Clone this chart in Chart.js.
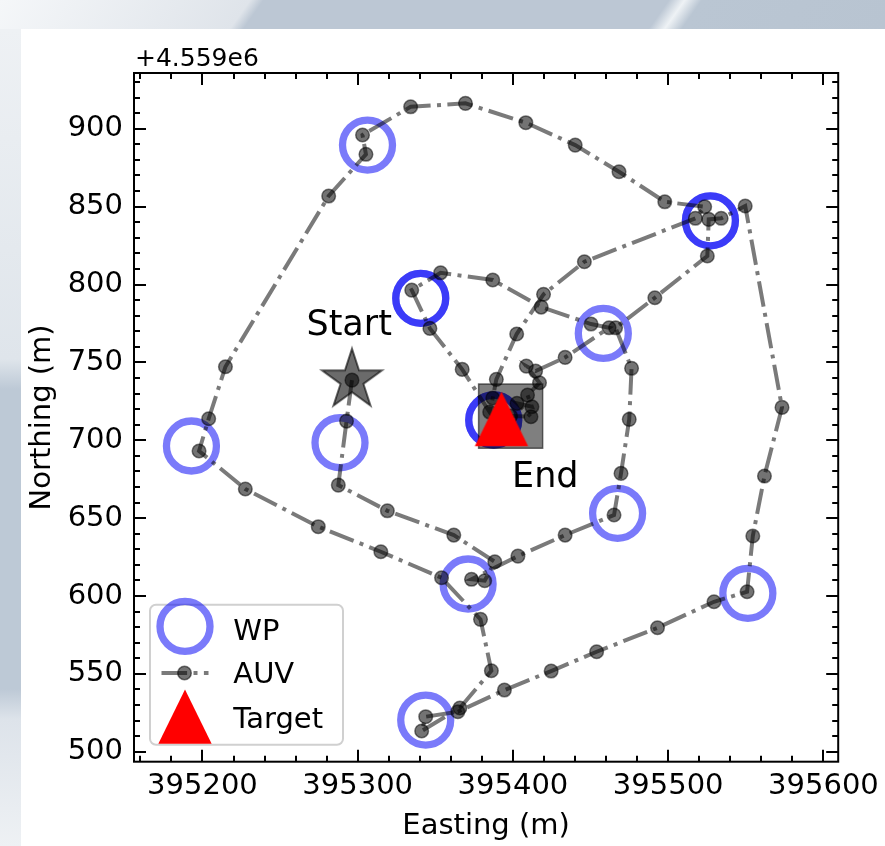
<!DOCTYPE html>
<html>
<head>
<meta charset="utf-8">
<title>AUV track</title>
<script src="https://cdn.jsdelivr.net/npm/chart.js@4.4.1/dist/chart.umd.min.js"></script>
<style>
  html, body { margin: 0; padding: 0; }
  body { width: 885px; height: 846px; position: relative; overflow: hidden; background: #e9edf1; }
  #bandaTop { position: absolute; left: 0; top: 0; width: 885px; height: 29px;
    background: linear-gradient(125deg, #f5f7f9 0px, #dfe4ea 205px, #bcc7d4 216px, #bcc7d4 548px, #eef2f5 561px, #bac6d3 575px, #b8c4d1 100%); }
  #bandaIzq { position: absolute; left: 0; top: 29px; width: 21px; height: 817px;
    background: linear-gradient(180deg, #eef1f4 0px, #dfe5eb 330px, #bdc9d6 360px, #bdc9d6 660px, #dde3ea 690px, #eef1f4 100%); }
  #hoja { position: absolute; left: 21px; top: 29px; width: 864px; height: 817px; background: #fff; }
  canvas { position: absolute; left: 0; top: 0; }
</style>
</head>
<body>
<div id="bandaTop"></div>
<div id="bandaIzq"></div>
<div id="hoja"></div>
<canvas id="grafico" width="885" height="846"></canvas>
<script>
// Waypoints (WP2, WP3 and WP5 are listed twice in the mission)
const wpX = [395306.3, 395340.6, 395527.2, 395458.2, 395387.6, 395192.9, 395288.6, 395467.4, 395371.1, 395343.8, 395551.3, 395340.6, 395527.2, 395387.6];
const wpY = [889.5, 791.1, 840.9, 768.6, 713.0, 696.3, 698.4, 653.1, 607.7, 520.3, 601.7, 791.1, 840.9, 713.0];

// AUV track, first point = start, last point = end
const auvX = [395296.3, 395292.8, 395287.5, 395319.1, 395361.9, 395388.3, 395381.8, 395373.3, 395403.2, 395433.6,
  395465.1, 395469.6, 395474.9, 395476.4, 395466.1, 395491.4, 395525.2, 395526.1, 395534.1, 395549.6,
  395573.3, 395562.0, 395554.5, 395550.8, 395529.5, 395493.1, 395453.9, 395424.6, 395394.5, 395364.5,
  395343.8, 395341.2, 395365.8, 395386.1, 395379.1, 395354.0, 395314.9, 395274.6, 395227.6, 395197.8,
  395204.0, 395214.8, 395281.3, 395305.3, 395303.1, 395334.1, 395369.4, 395408.3, 395440.1, 395468.3,
  395497.8, 395523.5, 395517.5, 395446.0, 395419.7, 395402.4, 395389.3, 395387.0, 395385.0, 395367.3,
  395346.5, 395334.8, 395353.4, 395387.0, 395418.2, 395450.3, 395461.9, 395433.6, 395414.6, 395408.6,
  395417.1, 395409.4, 395412.2, 395402.6, 395411.6, 395398.5];
const auvY = [738.6, 712.3, 671.2, 654.7, 639.1, 622.0, 609.8, 610.7, 625.6, 639.1,
  652.0, 678.7, 713.4, 746.2, 772.2, 791.5, 818.3, 841.8, 842.5, 850.4,
  721.1, 677.0, 638.5, 602.7, 596.3, 579.6, 564.2, 551.8, 539.6, 525.7,
  522.5, 513.3, 528.1, 552.0, 585.0, 611.7, 628.4, 644.5, 668.7, 693.1,
  713.8, 747.2, 856.8, 883.6, 896.0, 914.1, 916.3, 903.9, 889.5, 872.4,
  853.1, 849.9, 842.5, 814.6, 793.7, 768.2, 739.1, 727.1, 718.1, 745.5,
  771.8, 796.4, 807.5, 802.9, 785.5, 774.6, 772.2, 753.2, 744.4, 747.6,
  736.9, 729.0, 721.5, 723.7, 715.1, 715.5];

// Target
const targetX = [395392.6];
const targetY = [713.7];

// Text labels
const etiquetas = ['Start', 'End'];
const etiquetaX = [395294.5, 395399.4];
const etiquetaY = [767.5, 670.1];
const etiquetaAlign = ['center', 'left'];

// Axis
const ejeX = { min: 395155.9, max: 395609.5, paso: 100, menor: 20 };
const ejeY = { min: 493.6, max: 935.8, paso: 50, menor: 10 };
const offsetTexto = '+4.559e6';

const FUENTE = '"DejaVu Sans", "Liberation Sans", sans-serif';
const colorWP = 'rgba(0,0,245,0.52)';
const colorAUV = 'rgba(0,0,0,0.52)';
const dashAUV = [25.6, 6.4, 4, 6.4];

const puntos = (xs, ys) => xs.map((x, i) => ({ x, y: ys[i] }));

// Star marker (matplotlib '*')
function hacerEstrella(R) {
    const c = document.createElement('canvas');
    c.width = 72; c.height = 72;
    const g = c.getContext('2d');
    const r = R * 0.381966;
    g.beginPath();
    for (let i = 0; i < 10; i++) {
        const ang = -Math.PI / 2 + i * Math.PI / 5;
        const rr = i % 2 === 0 ? R : r;
        g.lineTo(36 + rr * Math.cos(ang), 36 + rr * Math.sin(ang));
    }
    g.closePath();
    g.fillStyle = 'rgba(0,0,0,0.58)';
    g.fill();
    g.lineWidth = 2;
    g.strokeStyle = 'rgba(0,0,0,0.6)';
    g.stroke();
    return c;
}

// Triangle marker (matplotlib '^')
function trianguloPath(g, cx, cy, w, h) {
    g.beginPath();
    g.moveTo(cx, cy - h / 2);
    g.lineTo(cx + w / 2, cy + h / 2);
    g.lineTo(cx - w / 2, cy + h / 2);
    g.closePath();
}
function hacerTriangulo(w, h) {
    const c = document.createElement('canvas');
    c.width = 60; c.height = 60;
    const g = c.getContext('2d');
    trianguloPath(g, 30, 30, w, h);
    g.fillStyle = '#ff0000';
    g.fill();
    return c;
}

const estrella = hacerEstrella(31.5);
const triangulo = hacerTriangulo(53.3, 54.3);

// Frame, inward ticks, offset text, labels and legend
const marcoPlugin = {
    id: 'marco',
    afterDraw(chart) {
        const { ctx, chartArea: a, scales: { x, y } } = chart;
        ctx.save();
        ctx.strokeStyle = '#000';
        ctx.lineWidth = 2;
        ctx.beginPath();
        for (let v = Math.ceil(ejeX.min / ejeX.menor) * ejeX.menor; v <= ejeX.max; v += ejeX.menor) {
            const px = Math.round(x.getPixelForValue(v));
            const len = v % ejeX.paso === 0 ? 12 : 6;
            ctx.moveTo(px, a.bottom); ctx.lineTo(px, a.bottom - len);
            ctx.moveTo(px, a.top); ctx.lineTo(px, a.top + len);
        }
        for (let v = Math.ceil(ejeY.min / ejeY.menor) * ejeY.menor; v <= ejeY.max; v += ejeY.menor) {
            const py = Math.round(y.getPixelForValue(v));
            const len = v % ejeY.paso === 0 ? 12 : 6;
            ctx.moveTo(a.left, py); ctx.lineTo(a.left + len, py);
            ctx.moveTo(a.right, py); ctx.lineTo(a.right - len, py);
        }
        ctx.stroke();
        ctx.strokeRect(a.left, a.top, a.right - a.left, a.bottom - a.top);

        ctx.fillStyle = '#000';
        ctx.font = '25px ' + FUENTE;
        ctx.textAlign = 'left';
        ctx.textBaseline = 'alphabetic';
        ctx.fillText(offsetTexto, a.left + 1, a.top - 7);

        ctx.font = '35px ' + FUENTE;
        etiquetas.forEach((t, i) => {
            ctx.textAlign = etiquetaAlign[i];
            ctx.fillText(t, x.getPixelForValue(etiquetaX[i]), y.getPixelForValue(etiquetaY[i]));
        });

        // legend
        const lx = a.left + 16, ly = a.bottom - 157, lw = 193, lh = 140, rad = 6;
        ctx.beginPath();
        ctx.moveTo(lx + rad, ly);
        ctx.arcTo(lx + lw, ly, lx + lw, ly + lh, rad);
        ctx.arcTo(lx + lw, ly + lh, lx, ly + lh, rad);
        ctx.arcTo(lx, ly + lh, lx, ly, rad);
        ctx.arcTo(lx, ly, lx + lw, ly, rad);
        ctx.closePath();
        ctx.fillStyle = 'rgba(255,255,255,0.8)';
        ctx.fill();
        ctx.strokeStyle = '#d0d0d0';
        ctx.lineWidth = 2;
        ctx.stroke();

        const mx = lx + 35;
        ctx.beginPath();
        ctx.arc(mx, ly + 21.7, 25, 0, Math.PI * 2);
        ctx.strokeStyle = colorWP;
        ctx.lineWidth = 7.3;
        ctx.stroke();

        ctx.beginPath();
        ctx.setLineDash(dashAUV);
        ctx.moveTo(mx - 23.5, ly + 68.3);
        ctx.lineTo(mx + 23.5, ly + 68.3);
        ctx.strokeStyle = colorAUV;
        ctx.lineWidth = 4;
        ctx.stroke();
        ctx.setLineDash([]);
        ctx.beginPath();
        ctx.arc(mx - 0.5, ly + 68.3, 6.8, 0, Math.PI * 2);
        ctx.fillStyle = 'rgba(0,0,0,0.55)';
        ctx.fill();
        ctx.lineWidth = 1.5;
        ctx.strokeStyle = 'rgba(0,0,0,0.5)';
        ctx.stroke();

        trianguloPath(ctx, mx, ly + 112, 53.3, 54.3);
        ctx.fillStyle = '#ff0000';
        ctx.fill();

        ctx.fillStyle = '#000';
        ctx.font = '29px ' + FUENTE;
        ctx.textAlign = 'left';
        ctx.fillText('WP', lx + 83.3, ly + 35);
        ctx.fillText('AUV', lx + 83.3, ly + 78.3);
        ctx.fillText('Target', lx + 83.3, ly + 123.3);
        ctx.restore();
    }
};

Chart.defaults.font.family = FUENTE;
Chart.defaults.color = '#000';

new Chart(document.getElementById('grafico').getContext('2d'), {
    type: 'scatter',
    data: {
        datasets: [
            {
                label: 'Target',
                data: puntos(targetX, targetY),
                pointStyle: triangulo,
                pointRadius: 10,
                order: 0
            },
            {
                label: 'Start',
                data: [{ x: auvX[0], y: auvY[0] }],
                pointStyle: estrella,
                pointRadius: 10,
                order: 1
            },
            {
                label: 'End',
                data: [{ x: auvX[auvX.length - 1], y: auvY[auvY.length - 1] }],
                pointStyle: 'rect',
                pointRadius: 45.3,
                pointBackgroundColor: 'rgba(0,0,0,0.5)',
                pointBorderColor: 'rgba(0,0,0,0.55)',
                pointBorderWidth: 1.5,
                order: 2
            },
            {
                label: 'AUV',
                data: puntos(auvX, auvY),
                showLine: true,
                borderColor: colorAUV,
                borderWidth: 4,
                borderDash: dashAUV,
                tension: 0,
                pointRadius: 6.8,
                pointBackgroundColor: 'rgba(0,0,0,0.55)',
                pointBorderColor: 'rgba(0,0,0,0.5)',
                pointBorderWidth: 1.5,
                order: 3
            },
            {
                label: 'WP',
                data: puntos(wpX, wpY),
                pointStyle: 'circle',
                pointRadius: 25,
                pointBorderWidth: 7.3,
                pointBorderColor: colorWP,
                pointBackgroundColor: 'rgba(0,0,0,0)',
                order: 4
            }
        ]
    },
    options: {
        responsive: false,
        animation: false,
        devicePixelRatio: 1,
        layout: { padding: { top: 73, right: 44.3, left: 0, bottom: 0 } },
        plugins: { legend: { display: false }, tooltip: { enabled: false } },
        scales: {
            x: {
                type: 'linear',
                position: 'bottom',
                min: ejeX.min,
                max: ejeX.max,
                grid: { display: false, drawTicks: false },
                border: { display: false },
                ticks: {
                    stepSize: ejeX.paso,
                    includeBounds: false,
                    autoSkip: false,
                    maxRotation: 0,
                    minRotation: 0,
                    padding: 7,
                    color: '#000',
                    font: { size: 29 },
                    callback: v => String(v)
                },
                title: {
                    display: true,
                    text: 'Easting (m)',
                    color: '#000',
                    font: { size: 29 },
                    padding: { top: 0, bottom: 2.2 }
                },
                afterFit: s => { s.height = 84.3; s.paddingLeft = 0; s.paddingRight = 0; }
            },
            y: {
                type: 'linear',
                position: 'left',
                min: ejeY.min,
                max: ejeY.max,
                grid: { display: false, drawTicks: false },
                border: { display: false },
                ticks: {
                    stepSize: ejeY.paso,
                    includeBounds: false,
                    autoSkip: false,
                    padding: 11,
                    color: '#000',
                    font: { size: 29 },
                    callback: v => String(v)
                },
                title: {
                    display: true,
                    text: 'Northing (m)',
                    color: '#000',
                    font: { size: 29 },
                    padding: { top: 24.8, bottom: 0 }
                },
                afterFit: s => { s.width = 134; s.paddingTop = 0; s.paddingBottom = 0; }
            }
        }
    },
    plugins: [marcoPlugin]
});
</script>
</body>
</html>
